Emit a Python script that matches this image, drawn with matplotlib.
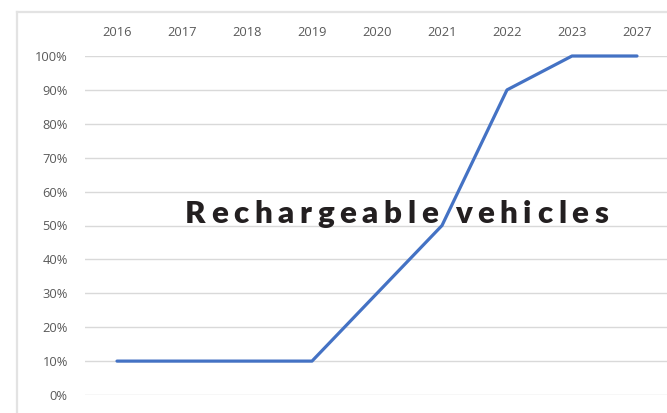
import matplotlib
matplotlib.use('Agg')
import matplotlib.pyplot as plt
from matplotlib.lines import Line2D
from matplotlib.ticker import PercentFormatter

# data
years = ['2016', '2017', '2018', '2019', '2020', '2021', '2022', '2023', '2027']
share = [0.10, 0.10, 0.10, 0.10, 0.30, 0.50, 0.90, 1.00, 1.00]
title = 'Rechargeable vehicles'

W, H = 667, 413
fig = plt.figure(figsize=(W / 100, H / 100), dpi=100)

# plot area in pixels: x 84..670, y 56..395 (from top)
left, right, top, bottom = 84.5, 669.5, 56, 395
ax = fig.add_axes([left / W, 1 - bottom / H, (right - left) / W, (bottom - top) / H])

x = range(len(years))
ax.plot(x, share, color='#4472C4', lw=2.3, clip_on=False, solid_capstyle='round', zorder=3)

ax.set_xlim(-0.5, len(years) - 0.5)
ax.set_ylim(0, 1)
ax.set_yticks([i / 10 for i in range(11)])
ax.yaxis.set_major_formatter(PercentFormatter(1.0, decimals=0))
ax.set_xticks(list(x))
ax.set_xticklabels(years)
ax.xaxis.tick_top()

for lab in ax.get_xticklabels() + ax.get_yticklabels():
    lab.set_fontfamily('Open Sans')
    lab.set_fontsize(9.3)
    lab.set_color('#595959')
ax.tick_params(axis='x', length=0, pad=12)
ax.tick_params(axis='y', length=0, pad=12)

ax.grid(axis='y', color='#D9D9D9', lw=1)
ax.set_axisbelow(True)
for s in ax.spines.values():
    s.set_visible(False)

# outer frame lines of the source sheet
fig.add_artist(Line2D([17 / W, 1], [1 - 12 / H, 1 - 12 / H], color='#E3E3E3', lw=1.6))
fig.add_artist(Line2D([17 / W, 17 / W], [0, 1 - 12 / H], color='#E3E3E3', lw=1.6))

# spaced-out overlay label
x0, x1, base = 185, 608, 223
renderer = fig.canvas.get_renderer()
chars = []
widths = []
for ch in title:
    t = fig.text(0, 0, ch, fontsize=22.5, fontfamily='Lato', fontweight='heavy', color='#231F20')
    chars.append(t)
    widths.append(t.get_window_extent(renderer).width if ch != ' ' else 6)
gap = (x1 - x0 - sum(widths)) / (len(title) - 1)
pos = x0
for t, w in zip(chars, widths):
    t.set_position((pos / W, 1 - base / H))
    t.set_va('baseline')
    t.set_zorder(5)
    pos += w + gap

fig.savefig('out.png', dpi=100)
